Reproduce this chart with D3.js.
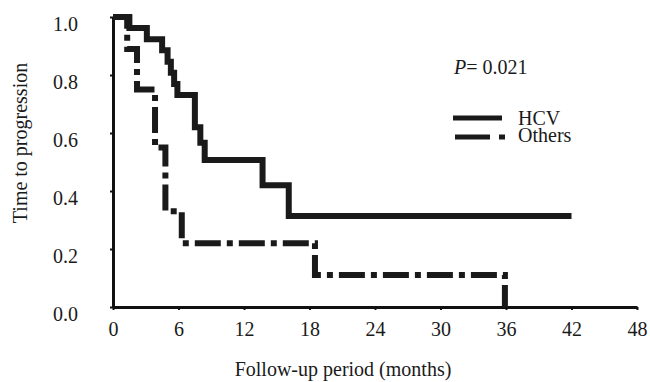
<!DOCTYPE html>
<html>
<head>
<meta charset="utf-8">
<script src="https://cdn.jsdelivr.net/npm/d3@7"></script>
<style>
  body { margin: 0; background: #fff; }
  svg { display: block; font-family: "Liberation Serif", "Times New Roman", serif; }
  .axis path { stroke: #111; stroke-width: 3; }
  .axis line { stroke: #111; stroke-width: 2; }
  .axis text { font-size: 20px; fill: #1a1a1a; font-family: "Liberation Serif", serif; }
  .lbl { font-size: 20px; fill: #1a1a1a; }
</style>
</head>
<body>
<svg id="chart"></svg>
<script>
// Kaplan-Meier steps (months, proportion)
const hcvMonths = [0, 1.5, 3.1, 4.5, 5.0, 5.3, 5.6, 5.9, 7.5, 8.0, 8.4, 13.7, 16.1, 42];
const hcvSurvival = [1.0, 0.962, 0.923, 0.885, 0.846, 0.808, 0.769, 0.731, 0.62, 0.566, 0.507, 0.42, 0.314, 0.314];
const otherMonths = [0, 1.3, 2.2, 3.85, 4.8, 6.3, 18.5, 35.9];
const otherSurvival = [1.0, 0.89, 0.75, 0.55, 0.33, 0.22, 0.11, 0];
const xTicks = [0, 6, 12, 18, 24, 30, 36, 42, 48];
const yTicks = [0, 0.2, 0.4, 0.6, 0.8, 1.0];
const seriesNames = ['HCV', 'Others'];
const pValueText = '= 0.021';

class KMChart {

  constructor(_config) {
    this.config = {
      parentElement: _config.parentElement,
      containerWidth: _config.containerWidth || 650,
      containerHeight: _config.containerHeight || 382,
      margin: _config.margin || {top: 17, right: 13, bottom: 75, left: 113}
    };
    this.initVis();
  }

  initVis() {
    let vis = this;

    vis.width = vis.config.containerWidth - vis.config.margin.left - vis.config.margin.right;
    vis.height = vis.config.containerHeight - vis.config.margin.top - vis.config.margin.bottom;

    vis.xScale = d3.scaleLinear().domain([0, 48]).range([0, vis.width]);
    vis.yScale = d3.scaleLinear().domain([0, 1]).range([vis.height, 0]);

    vis.xAxis = d3.axisBottom(vis.xScale)
        .tickValues(xTicks)
        .tickSize(3)
        .tickSizeOuter(0)
        .tickPadding(12)
        .tickFormat(d3.format('d'));

    vis.yAxis = d3.axisLeft(vis.yScale)
        .tickValues(yTicks)
        .tickSize(3)
        .tickSizeOuter(0)
        .tickPadding(32)
        .tickFormat(d3.format('.1f'));

    vis.svg = d3.select(vis.config.parentElement)
        .attr('width', vis.config.containerWidth)
        .attr('height', vis.config.containerHeight);

    vis.chart = vis.svg.append('g')
        .attr('transform', `translate(${vis.config.margin.left},${vis.config.margin.top})`);

    vis.xAxisG = vis.chart.append('g')
        .attr('class', 'axis x-axis')
        .attr('transform', `translate(0,${vis.height})`);

    vis.yAxisG = vis.chart.append('g')
        .attr('class', 'axis y-axis');

    // Axis titles
    vis.svg.append('text')
        .attr('class', 'lbl')
        .attr('x', 343)
        .attr('y', 376)
        .style('text-anchor', 'middle')
        .text('Follow-up period (months)');

    vis.svg.append('text')
        .attr('class', 'lbl')
        .attr('transform', 'translate(27,143) rotate(-90)')
        .style('text-anchor', 'middle')
        .text('Time to progression');
  }

  renderVis() {
    let vis = this;

    vis.xAxisG.call(vis.xAxis);
    vis.yAxisG.call(vis.yAxis);
    vis.yAxisG.selectAll('text').attr('dy', '0.66em');

    const line = d3.line()
        .x(d => vis.xScale(d[0]))
        .y(d => vis.yScale(d[1]))
        .curve(d3.curveStepAfter);

    const hcv = hcvMonths.map((m, i) => [m, hcvSurvival[i]]);
    const others = otherMonths.map((m, i) => [m, otherSurvival[i]]);

    vis.chart.append('path')
        .datum(others)
        .attr('d', line)
        .attr('fill', 'none')
        .attr('stroke', '#1a1a1a')
        .attr('stroke-width', 6)
        .attr('stroke-linejoin', 'miter')
        .attr('stroke-dasharray', '26,6,6,6');

    vis.chart.append('path')
        .datum(hcv)
        .attr('d', line)
        .attr('fill', 'none')
        .attr('stroke', '#1a1a1a')
        .attr('stroke-width', 6)
        .attr('stroke-linejoin', 'miter');

    // P value
    const p = vis.svg.append('text')
        .attr('class', 'lbl')
        .attr('x', 454)
        .attr('y', 74);
    p.append('tspan').style('font-style', 'italic').text('P');
    p.append('tspan').text(pValueText);

    // Legend
    const legend = vis.svg.append('g');
    legend.append('line')
        .attr('x1', 453).attr('x2', 502)
        .attr('y1', 118).attr('y2', 118)
        .attr('stroke', '#1a1a1a')
        .attr('stroke-width', 5);
    legend.append('line')
        .attr('x1', 455).attr('x2', 505)
        .attr('y1', 137).attr('y2', 137)
        .attr('stroke', '#1a1a1a')
        .attr('stroke-width', 5)
        .attr('stroke-dasharray', '35,9,6,20');
    legend.selectAll('text.leg')
        .data(seriesNames)
      .join('text')
        .attr('class', 'lbl leg')
        .attr('x', 518)
        .attr('y', (d, i) => i === 0 ? 125 : 142)
        .text(d => d);
  }
}

const chart = new KMChart({parentElement: '#chart'});
chart.renderVis();
</script>
</body>
</html>
